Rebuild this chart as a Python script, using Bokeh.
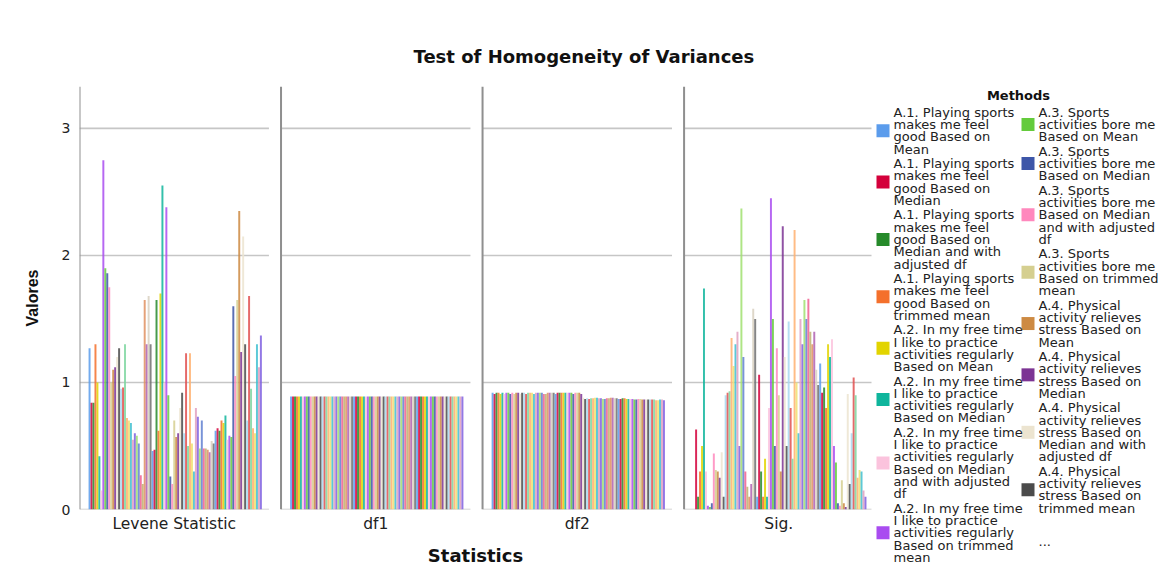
from bokeh.plotting import figure
from bokeh.models import ColumnDataSource, Range1d, FixedTicker, Title
from bokeh.layouts import row
from bokeh.core.properties import value
from bokeh.embed import file_html
from bokeh.resources import INLINE

# ---------------- data ----------------
statistics = ["Levene Statistic", "df1", "df2", "Sig."]

levene = [1.27, 0.84, 0.84, 1.30, 1.00, 0.42, 0.15, 2.75, 1.90, 1.86, 1.75,
          1.00, 1.10, 1.12, 1.20, 1.27, 0.95, 0.96, 1.30, 0.72, 0.70, 0.68,
          0.55, 0.60, 0.58, 0.52, 0.27, 0.20, 1.65, 1.30, 1.68, 1.30, 0.46,
          0.47, 1.65, 0.62, 1.70, 2.55, 1.00, 2.38, 0.90, 0.26, 0.20, 0.70,
          0.57, 0.60, 0.80, 0.92, 0.60, 1.23, 0.50, 1.23, 0.52, 0.30, 0.80,
          0.73, 0.48, 0.70, 0.48, 0.48, 0.47, 0.45, 0.54, 0.52, 0.62, 0.64,
          0.62, 0.70, 0.68, 0.74, 0.55, 0.58, 0.57, 1.60, 1.05, 1.65, 2.35,
          1.24, 2.15, 1.30, 0.70, 1.68, 0.95, 0.64, 0.60, 1.30, 1.12, 1.37]

df1 = [0.89, 0.89, 0.89, 0.89, 0.89, 0.89, 0.89, 0.89, 0.89, 0.89, 0.89,
       0.89, 0.89, 0.89, 0.89, 0.89, 0.89, 0.89, 0.89, 0.89, 0.89, 0.89,
       0.89, 0.89, 0.89, 0.89, 0.89, 0.89, 0.89, 0.89, 0.89, 0.89, 0.89,
       0.89, 0.89, 0.89, 0.89, 0.89, 0.89, 0.89, 0.89, 0.89, 0.89, 0.89,
       0.89, 0.89, 0.89, 0.89, 0.89, 0.89, 0.89, 0.89, 0.89, 0.89, 0.89,
       0.89, 0.89, 0.89, 0.89, 0.89, 0.89, 0.89, 0.89, 0.89, 0.89, 0.89,
       0.89, 0.89, 0.89, 0.89, 0.89, 0.89, 0.89, 0.89, 0.89, 0.89, 0.89,
       0.89, 0.89, 0.89, 0.89, 0.89, 0.89, 0.89, 0.89, 0.89, 0.89, 0.89]

df2 = [0.92, 0.91, 0.92, 0.92, 0.91, 0.92, 0.91, 0.92, 0.92, 0.91, 0.92,
       0.91, 0.92, 0.92, 0.91, 0.92, 0.92, 0.91, 0.92, 0.92, 0.92, 0.91,
       0.92, 0.92, 0.92, 0.92, 0.91, 0.91, 0.92, 0.92, 0.92, 0.92, 0.91,
       0.92, 0.92, 0.92, 0.92, 0.92, 0.92, 0.92, 0.92, 0.91, 0.92, 0.92,
       0.92, 0.91, 0.88, 0.87, 0.875, 0.87, 0.875, 0.875, 0.88, 0.88, 0.875,
       0.875, 0.87, 0.87, 0.875, 0.875, 0.88, 0.88, 0.875, 0.875, 0.87, 0.87,
       0.875, 0.875, 0.87, 0.87, 0.87, 0.87, 0.865, 0.865, 0.87, 0.87, 0.865,
       0.865, 0.865, 0.865, 0.865, 0.865, 0.865, 0.86, 0.86, 0.865, 0.865, 0.86]

sig = [0.00, 0.63, 0.10, 0.30, 0.50, 1.74, 0.30, 0.03, 0.02, 0.05, 0.44,
       0.31, 0.30, 0.25, 0.45, 0.10, 0.90, 0.92, 0.93, 1.35, 1.13, 1.30,
       1.40, 0.50, 2.37, 1.20, 0.30, 0.18, 0.10, 0.20, 1.58, 1.50, 0.10,
       1.06, 0.30, 0.10, 0.40, 0.10, 0.80, 2.45, 1.50, 0.50, 1.27, 0.90,
       0.30, 2.23, 1.20, 0.50, 1.48, 0.80, 0.40, 2.20, 1.00, 0.60, 1.50,
       1.30, 1.65, 1.50, 1.66, 1.40, 1.30, 1.40, 1.10, 0.98, 1.15, 0.92,
       0.96, 0.80, 1.30, 1.20, 1.34, 0.50, 0.37, 0.05, 0.03, 0.23, 0.05,
       0.02, 0.91, 0.20, 0.60, 1.04, 0.90, 0.25, 0.31, 0.30, 0.15, 0.10]

panel_values = [levene, df1, df2, sig]

# legend entries that are visible (the rest are summarised by "...")
legend_labels = [
    "A.1. Playing sports\nmakes me feel\ngood Based on\nMean",
    "A.1. Playing sports\nmakes me feel\ngood Based on\nMedian",
    "A.1. Playing sports\nmakes me feel\ngood Based on\nMedian and with\nadjusted df",
    "A.1. Playing sports\nmakes me feel\ngood Based on\ntrimmed mean",
    "A.2. In my free time\nI like to practice\nactivities regularly\nBased on Mean",
    "A.2. In my free time\nI like to practice\nactivities regularly\nBased on Median",
    "A.2. In my free time\nI like to practice\nactivities regularly\nBased on Median\nand with adjusted\ndf",
    "A.2. In my free time\nI like to practice\nactivities regularly\nBased on trimmed\nmean",
    "A.3. Sports\nactivities bore me\nBased on Mean",
    "A.3. Sports\nactivities bore me\nBased on Median",
    "A.3. Sports\nactivities bore me\nBased on Median\nand with adjusted\ndf",
    "A.3. Sports\nactivities bore me\nBased on trimmed\nmean",
    "A.4. Physical\nactivity relieves\nstress Based on\nMean",
    "A.4. Physical\nactivity relieves\nstress Based on\nMedian",
    "A.4. Physical\nactivity relieves\nstress Based on\nMedian and with\nadjusted df",
    "A.4. Physical\nactivity relieves\nstress Based on\ntrimmed mean",
]

palette = ["#5b9cec", "#d4003b", "#268a2a", "#f4702c", "#e2d400", "#0fb59c",
           "#fbc3dd", "#a94cf0", "#64cb3c", "#3d56a8", "#ff88bd", "#d5cf90",
           "#cd8a42", "#7c3494", "#ece4d0", "#4b4b4b",
           "#a8d8f0", "#e05050", "#7ed6a0", "#ffb070", "#f0e070", "#40c0d0",
           "#e0a0c0", "#8060e0", "#a0e070", "#6080d0", "#f06090", "#c0b070",
           "#e09060", "#b060b0", "#d8d0c0", "#707070"]

# ---------------- layout constants ----------------
Y_TOP = 3.33
PANEL_W = 0.94
BAR_START = 0.045
BAR_SPAN = 0.86
FONT = "DejaVu Sans"

n_series = len(levene)
bw = BAR_SPAN / n_series

xs, tops, cols = [], [], []
for i, vals in enumerate(panel_values):
    for j, v in enumerate(vals):
        xs.append(i + BAR_START + (j + 0.5) * bw)
        tops.append(v)
        cols.append(palette[j % len(palette)])
src = ColumnDataSource(dict(x=xs, top=tops, color=cols))

p = figure(width=874, height=573, output_backend="svg", toolbar_location=None,
           x_range=Range1d(0, 3.93), y_range=Range1d(0, Y_TOP),
           min_border_left=79, min_border_top=86, min_border_bottom=64,
           min_border_right=3)
p.frame_align = False
p.outline_line_color = None
p.xgrid.visible = False
p.ygrid.visible = False

p.title = Title(text="Test of Homogeneity of Variances", align="left",
                offset=334, standoff=40, text_font=FONT,
                text_font_style="bold", text_font_size="18px",
                text_color="#111111")

# gridlines per panel
yticks = [0, 1, 2, 3]
gx0, gx1, gy = [], [], []
for i in range(len(statistics)):
    for t in yticks:
        gx0.append(i)
        gx1.append(i + PANEL_W)
        gy.append(t)
p.segment(x0=gx0, x1=gx1, y0=gy, y1=gy, line_color="#c6c6c6", line_width=1.6)

p.vbar(x="x", top="top", width=bw, bottom=0, source=src,
       fill_color="color", fill_alpha=0.85, line_color=None)

# panel separators (vertical axis lines)
sx = list(range(len(statistics)))
p.segment(x0=sx, x1=sx, y0=[0] * len(sx), y1=[Y_TOP] * len(sx),
          line_color="#8f8f8f", line_width=2)

# axes
p.yaxis.ticker = FixedTicker(ticks=yticks)
p.yaxis.axis_line_color = None
p.yaxis.major_tick_line_color = None
p.yaxis.minor_tick_line_color = None
p.yaxis.major_tick_out = 0
p.yaxis.minor_tick_out = 0
p.yaxis.major_label_text_font = FONT
p.yaxis.major_label_text_font_size = "14px"
p.yaxis.major_label_text_color = "#222222"
p.yaxis.major_label_standoff = 9
p.yaxis.axis_label = "Valores"
p.yaxis.axis_label_text_font = "Liberation Sans"
p.yaxis.axis_label_text_font_style = "bold"
p.yaxis.axis_label_text_font_size = "16px"
p.yaxis.axis_label_standoff = 18
p.yaxis.axis_label_text_color = "#111111"

centers = [i + PANEL_W / 2 for i in range(len(statistics))]
p.xaxis.ticker = FixedTicker(ticks=centers)
p.xaxis.major_label_overrides = {c: s for c, s in zip(centers, statistics)}
p.xaxis.axis_line_color = None
p.xaxis.major_tick_line_color = None
p.xaxis.minor_tick_line_color = None
p.xaxis.major_tick_out = 0
p.xaxis.minor_tick_out = 0
p.xaxis.major_label_text_font = FONT
p.xaxis.major_label_text_font_size = "15.5px"
p.xaxis.major_label_text_color = "#222222"
p.xaxis.major_label_standoff = 5
p.xaxis.axis_label = "Statistics"
p.xaxis.axis_label_text_font = FONT
p.xaxis.axis_label_text_font_style = "bold"
p.xaxis.axis_label_text_font_size = "18px"
p.xaxis.axis_label_standoff = 9
p.xaxis.axis_label_text_color = "#111111"

# ---------------- legend panel ----------------
LW, LH = 287, 573
lg = figure(width=LW, height=LH, output_backend="svg", toolbar_location=None,
            x_range=Range1d(0, LW), y_range=Range1d(LH, 0),
            min_border=0, x_axis_location=None, y_axis_location=None)
lg.frame_align = False
lg.grid.visible = False
lg.outline_line_color = None

LINE_H = 12.3
GAP = 2.1
col_x = [(8.5, 19), (153.5, 164)]
start_y = 111.7
columns = [legend_labels[:8], legend_labels[8:]]
sw_x, sw_y, sw_c, tx, ty, tt = [], [], [], [], [], []
k = 0
for ci, labels in enumerate(columns):
    y = start_y
    for lab in labels:
        lines = lab.split("\n")
        sw_x.append(col_x[ci][0])
        sw_y.append(y + (len(lines) - 1) * LINE_H / 2)
        sw_c.append(palette[k])
        for li, line in enumerate(lines):
            tx.append(col_x[ci][1])
            ty.append(y + li * LINE_H)
            tt.append(line)
        y += len(lines) * LINE_H + GAP
        k += 1
    if ci == 1:
        tx.append(col_x[ci][1])
        ty.append(y + 19)
        tt.append("...")

lg.rect(x=sw_x, y=sw_y, width=13, height=13, fill_color=sw_c, line_color=None)
lg.text(x=tx, y=ty, text=tt, text_font=value(FONT), text_font_size="13px",
        text_baseline="middle", text_align="left", text_color="#222222")
lg.text(x=[144], y=[95], text=["Methods"], text_font=value(FONT),
        text_font_style="bold", text_font_size="13px", text_align="center",
        text_baseline="middle", text_color="#111111")

layout = row(p, lg)
open("out.html", "w").write(file_html(layout, INLINE))
